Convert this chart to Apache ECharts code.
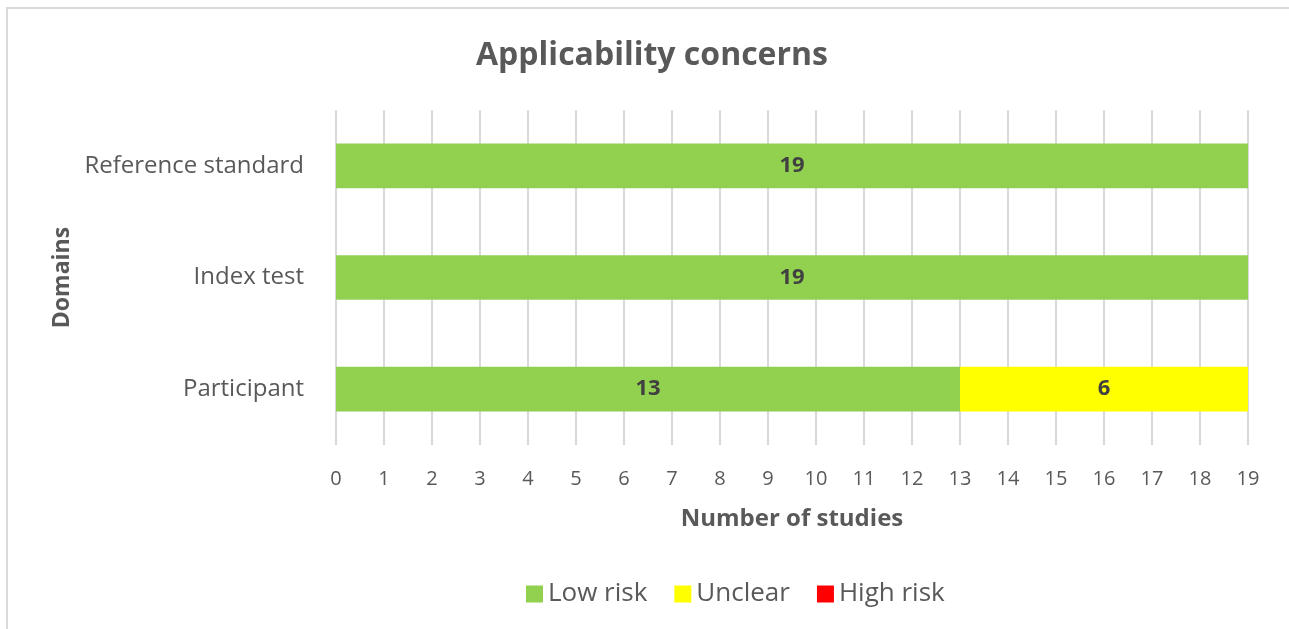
<!DOCTYPE html>
<html><head><meta charset="utf-8">
<script src="https://cdn.jsdelivr.net/npm/echarts@6/dist/echarts.min.js"></script>
<style>html,body{margin:0;padding:0;background:#fff}#c{width:1289px;height:629px}</style>
</head><body><div id="c"></div>
<script>
const categories = ['Participant', 'Index test', 'Reference standard'];
const lowRisk = [13, 19, 19];
const unclear = [6, 0, 0];
const highRisk = [0, 0, 0];
const xTicks = {min: 0, max: 19, interval: 1};

const FONT = 'Open Sans';
const labelStyle = {show: true, position: 'inside', color: '#404040', fontWeight: 'bold', fontSize: 22, fontFamily: FONT,
  formatter: p => p.value === 0 ? '' : p.value};
const chart = echarts.init(document.getElementById('c'));
chart.setOption({
  animation: false,
  textStyle: {fontFamily: FONT},
  title: {text: 'Applicability concerns', top: 35, left: 647, textAlign: 'center',
    textStyle: {fontFamily: FONT, fontSize: 32, fontWeight: 'bold', color: '#595959'}},
  graphic: [{type: 'rect', shape: {x: 7, y: 8, width: 1400, height: 800}, style: {fill: 'none', stroke: '#d9d9d9', lineWidth: 2}, silent: true}],
  legend: {left: 521, top: 576, itemWidth: 17, itemHeight: 17, itemGap: 27, icon: 'rect',
    textStyle: {fontFamily: FONT, fontSize: 26, color: '#595959'},
    data: ['Low risk', 'Unclear', 'High risk']},
  grid: {left: 336, right: 41, top: 110, bottom: 184, containLabel: false},
  xAxis: {type: 'value', min: xTicks.min, max: xTicks.max, interval: xTicks.interval,
    name: 'Number of studies', nameLocation: 'middle', nameGap: 62,
    nameTextStyle: {fontFamily: FONT, fontSize: 24, fontWeight: 'bold', color: '#595959'},
    axisLabel: {fontFamily: FONT, fontSize: 20, color: '#595959', margin: 24},
    axisLine: {show: false}, axisTick: {show: false},
    splitLine: {show: true, lineStyle: {color: '#d9d9d9', width: 2}}},
  yAxis: {type: 'category', data: categories,
    name: 'Domains', nameLocation: 'middle', nameGap: 260, nameRotate: 90,
    nameTextStyle: {fontFamily: FONT, fontSize: 23, fontWeight: 'bold', color: '#595959'},
    axisLabel: {fontFamily: FONT, fontSize: 24, color: '#595959', margin: 32},
    axisLine: {show: false}, axisTick: {show: false}},
  series: [
    {name: 'Low risk', type: 'bar', stack: 's', data: lowRisk, barCategoryGap: '60%', itemStyle: {color: '#92d050'}, label: labelStyle},
    {name: 'Unclear', type: 'bar', stack: 's', data: unclear, itemStyle: {color: '#ffff00'}, label: labelStyle},
    {name: 'High risk', type: 'bar', stack: 's', data: highRisk, itemStyle: {color: '#ff0000'}, label: labelStyle}
  ]
});
</script></body></html>
